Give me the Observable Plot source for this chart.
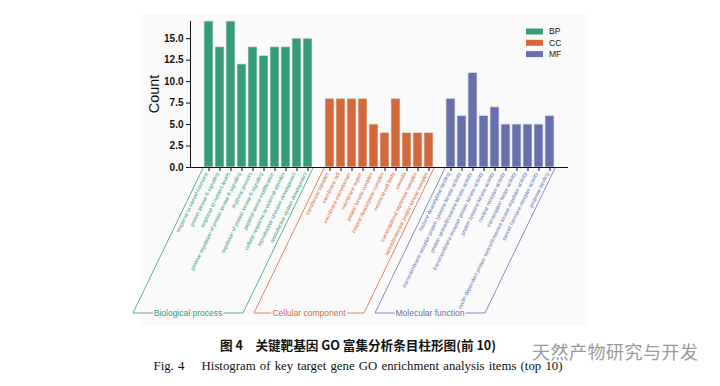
<!DOCTYPE html>
<html>
<head>
<meta charset="utf-8">
<script src="https://cdn.jsdelivr.net/npm/d3@7"></script>
<script src="https://cdn.jsdelivr.net/npm/@observablehq/plot@0.6"></script>
<style>
  html, body { margin: 0; padding: 0; background: #fff; }
  body { width: 720px; height: 386px; position: relative; overflow: hidden; font-family: "Liberation Sans", Arial, sans-serif; }
  #panel { position: absolute; left: 140px; top: 14px; width: 448px; height: 312px; background: #fafafa; }
  #chart { position: absolute; left: 0; top: 0; }
  .cap1 { position: absolute; top: 335px; left: 0; width: 716px; text-align: center; font-family: "Noto Sans CJK SC", "Liberation Serif", serif; font-weight: bold; font-size: 12.6px; color: #111; }
  .cap2 { position: absolute; top: 358px; left: 0; width: 716px; text-align: center; font-family: "Liberation Serif", "DejaVu Serif", serif; font-size: 12.8px; color: #111; word-spacing: 1px; }
  .wm { position: absolute; top: 338px; left: 532px; font-family: "Noto Sans CJK SC", sans-serif; font-size: 18px; color: #9a9a9a; letter-spacing: 0.5px; }
</style>
</head>
<body>
<div id="panel"></div>
<div id="chart"></div>
<div class="cap1">图 4　关键靶基因 GO 富集分析条目柱形图(前 10)</div>
<div class="cap2">Fig. 4　 Histogram of key target gene GO enrichment analysis items (top 10)</div>
<div class="wm">天然产物研究与开发</div>
<script>
const groups = ["BP", "CC", "MF"];
const groupTitles = ["Biological process", "Cellular component", "Molecular function"];
const groupColors = ["#369b7b", "#d3693a", "#6670ad"];

const bpTerms = [
  "response to steroid hormone",
  "protein kinase B signaling",
  "response to nutrient levels",
  "positive regulation of protein kinase B signaling",
  "rhythmic process",
  "regulation of protein kinase B signaling",
  "peptidyl-serine modification",
  "cellular response to external stimulus",
  "reproductive structure development",
  "reproductive system development"
];
const bpCounts = [17, 14, 17, 12, 14, 13, 14, 14, 15, 15];

const ccTerms = [
  "transferase complex",
  "membrane raft",
  "membrane microdomain",
  "membrane region",
  "protein kinase complex",
  "histone deacetylase complex",
  "neuronal cell body",
  "caveola",
  "transcriptional repressor complex",
  "serine/threonine protein kinase complex"
];
const ccCounts = [8, 8, 8, 8, 5, 4, 8, 4, 4, 4];

const mfTerms = [
  "histone deacetylase binding",
  "transmembrane receptor protein tyrosine kinase activity",
  "protein serine/threonine kinase activity",
  "transmembrane receptor protein kinase activity",
  "protein tyrosine kinase activity",
  "nuclear receptor activity",
  "transcription factor activity",
  "cyclin-dependent protein serine/threonine kinase regulator activity",
  "steroid hormone receptor activity",
  "protease binding"
];
const mfCounts = [8, 6, 11, 6, 7, 5, 5, 5, 5, 6];

const yTicks = [0, 2.5, 5, 7.5, 10, 12.5, 15];

const termLists = [bpTerms, ccTerms, mfTerms];
const countLists = [bpCounts, ccCounts, mfCounts];
const data = [];
termLists.forEach((terms, g) => terms.forEach((t, i) => data.push({group: groups[g], term: t, count: countLists[g][i]})));
const domain = [...bpTerms, " gap1", ...ccTerms, " gap2", ...mfTerms];
const allTerms = [...bpTerms, ...ccTerms, ...mfTerms];

const plot = Plot.plot({
  width: 720,
  height: 330,
  marginTop: 21,
  marginBottom: 163,
  marginLeft: 190,
  marginRight: 152,
  style: {background: "transparent", fontFamily: "Liberation Sans, Arial, sans-serif", color: "#111"},
  x: {type: "band", domain, paddingInner: 0.18, paddingOuter: 0.4, axis: null},
  y: {domain: [0, 17], axis: null},
  color: {domain: groups, range: groupColors},
  marks: [
    Plot.barY(data, {x: "term", y: "count", fill: "group", stroke: "#e4e4e4", strokeWidth: 0.7}),
    Plot.axisY(yTicks, {tickSize: 4, tickFormat: d3.format(".1f"), fontSize: 10, fontWeight: "bold", label: null, tickPadding: 3}),
    Plot.frame({anchor: "left", stroke: "#111"}),
    Plot.ruleY([0], {stroke: "#111"}),
    Plot.axisX(allTerms, {tickSize: 4, tickFormat: () => "", label: null}),
    Plot.text(data, {x: "term", text: "term", fill: "group", frameAnchor: "bottom", rotate: -64, textAnchor: "end", dy: 6, dx: -1, fontSize: 5.2})
  ]
});
document.getElementById("chart").appendChild(plot);

// decorations derived from the scales
const sx = plot.scale("x");
const sy = plot.scale("y");
const bw = sx.bandwidth;
const svg = d3.select(plot);
const y0 = sy.apply(0) + 1;
const yb = 313;
const slope = 70 / 145;
termLists.forEach((terms, g) => {
  const xl = sx.apply(terms[0]) - 1;
  const xr = sx.apply(terms[terms.length - 1]) + bw + 1;
  const off = (yb - y0) * slope;
  svg.append("path")
    .attr("d", `M${xl},${y0}L${xl - off},${yb}L${xr - off},${yb}L${xr},${y0}`)
    .attr("fill", "none").attr("stroke", groupColors[g]).attr("stroke-width", 0.8);
  svg.append("text")
    .attr("x", (xl + xr) / 2 - off).attr("y", yb)
    .attr("dy", "0.35em").attr("text-anchor", "middle")
    .attr("font-size", 8.5).attr("fill", groupColors[g])
    .attr("stroke", "#fafafa").attr("stroke-width", 3).attr("paint-order", "stroke")
    .text(groupTitles[g]);
});

// y axis title
svg.append("text")
  .attr("transform", `translate(154,${(sy.apply(0) + sy.apply(17)) / 2}) rotate(-90)`)
  .attr("text-anchor", "middle").attr("dy", "0.35em")
  .attr("font-size", 14.5).attr("fill", "#111").text("Count");

// legend
groups.forEach((gname, i) => {
  const ly = 31.5 + i * 11.3;
  svg.append("rect").attr("x", 526).attr("y", ly - 3).attr("width", 17).attr("height", 6).attr("fill", groupColors[i]);
  svg.append("text").attr("x", 549).attr("y", ly).attr("dy", "0.35em").attr("text-anchor", "start")
    .attr("font-size", 8.5).attr("fill", "#111").text(gname);
});
</script>
</body>
</html>
